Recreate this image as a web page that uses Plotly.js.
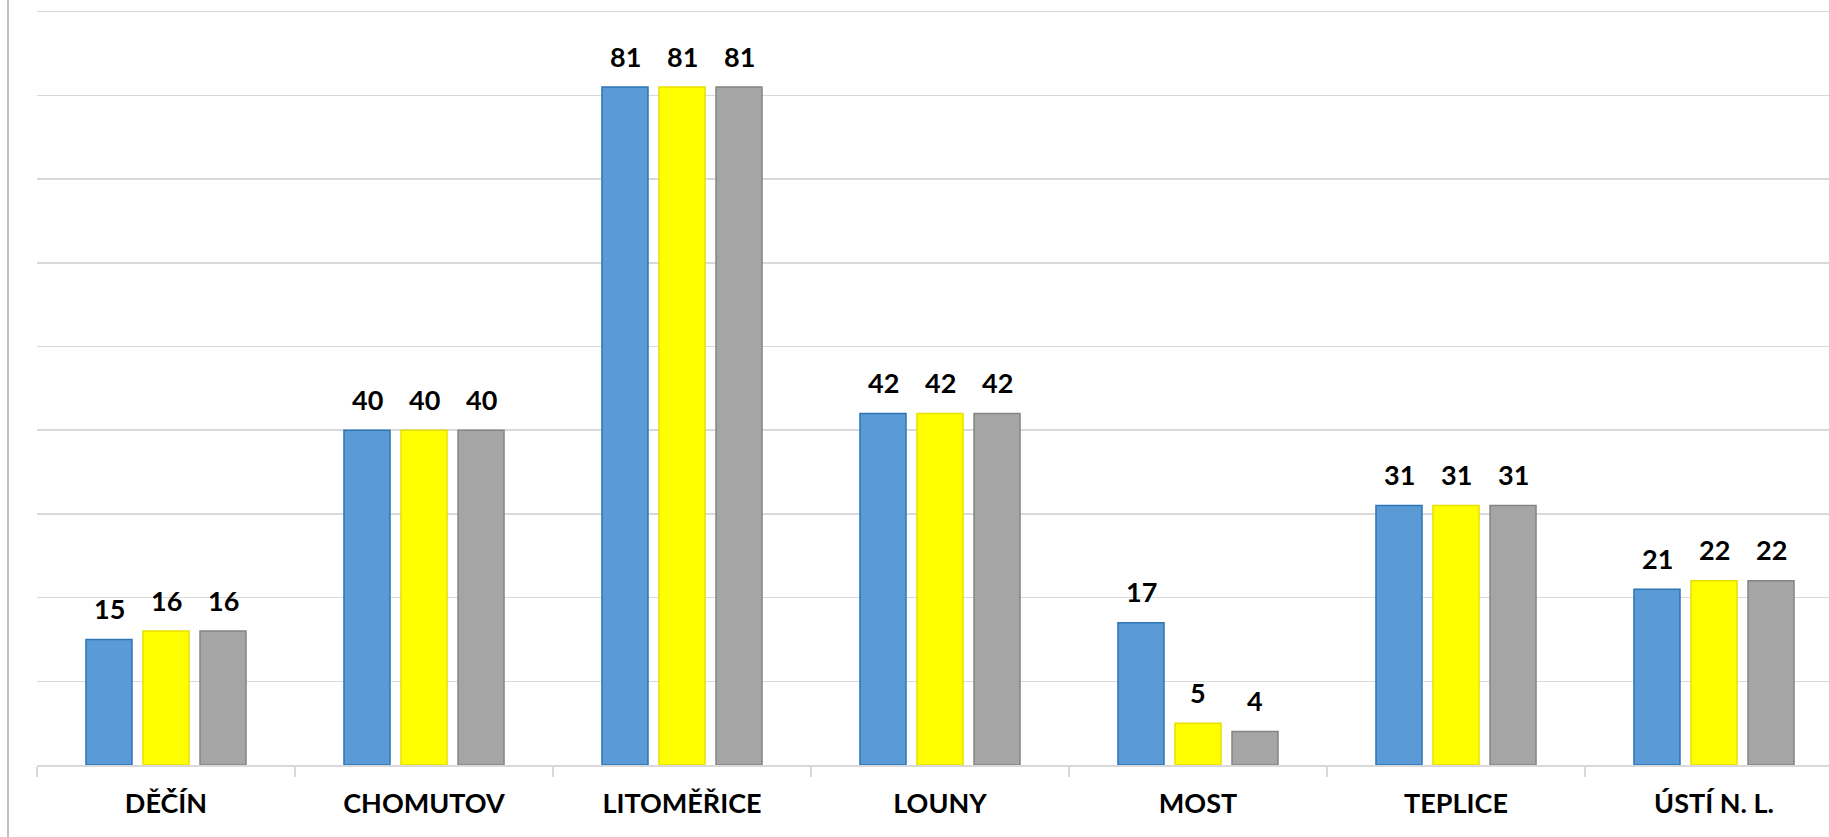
<!DOCTYPE html>
<html>
<head>
<meta charset="utf-8">
<script src="https://cdn.plot.ly/plotly-3.0.1.min.js"></script>
<style>
  html, body { margin: 0; padding: 0; background: #ffffff; overflow: hidden; }
  #chart { width: 1829px; height: 837px; }
</style>
</head>
<body>
<div id="chart"></div>
<script>
// Data
const categories = ["DĚČÍN", "CHOMUTOV", "LITOMĚŘICE", "LOUNY", "MOST", "TEPLICE", "ÚSTÍ N. L."];
const series1 = [15, 40, 81, 42, 17, 31, 21];
const series2 = [16, 40, 81, 42, 5, 31, 22];
const series3 = [16, 40, 81, 42, 4, 31, 22];
const seriesNames = ["Řada 1", "Řada 2", "Řada 3"];

const allSeries = [series1, series2, series3];
const fills = ["#5B9BD5", "#FFFF00", "#A5A5A5"];
const borders = ["#2E75B6", "#E8E000", "#858585"];

const W = 1829, H = 837;
const ml = 37, mt = 10, mb = 72;
const plotW = W - ml;
const plotH = H - mt - mb;
const catW = 258;

const traces = allSeries.map((vals, i) => ({
  type: "bar",
  name: seriesNames[i],
  x: categories,
  y: vals,
  marker: { color: fills[i], line: { color: borders[i], width: 1.5 } },
  hoverinfo: "x+y",
  showlegend: false
}));

const annotations = [];
allSeries.forEach((vals, i) => {
  vals.forEach((v, j) => {
    annotations.push({
      x: categories[j], y: v, xref: "x", yref: "y",
      xshift: (i - 1) * 57, yshift: 31,
      text: String(v), showarrow: false,
      xanchor: "center", yanchor: "middle",
      font: { family: "Lato, 'Open Sans', sans-serif", size: 27, color: "#000000", weight: 700 }
    });
  });
});

const layout = {
  width: W, height: H,
  margin: { l: ml, r: 0, t: mt, b: mb, pad: 0 },
  paper_bgcolor: "#ffffff",
  plot_bgcolor: "#ffffff",
  barmode: "group",
  bargap: 0.337,
  bargroupgap: 0.193,
  xaxis: {
    type: "category",
    range: [-0.5, -0.5 + plotW / catW],
    showline: true, linecolor: "#D9D9D9", linewidth: 1.5,
    ticks: "outside", tickson: "boundaries", ticklen: 10, tickwidth: 1.5, tickcolor: "#D9D9D9",
    ticklabelstandoff: 14,
    tickfont: { family: "Lato, 'Open Sans', sans-serif", size: 27, color: "#000000", weight: 700 },
    showgrid: false, zeroline: false, fixedrange: true
  },
  yaxis: {
    range: [0, 90.2], dtick: 10, tick0: 0,
    showticklabels: false, ticks: "",
    showgrid: true, gridcolor: "#D9D9D9", gridwidth: 1.5,
    zeroline: false, showline: false, fixedrange: true
  },
  annotations: annotations,
  shapes: [{
    type: "line", xref: "paper", yref: "paper",
    x0: (8 - ml) / plotW, x1: (8 - ml) / plotW,
    y0: -mb / plotH, y1: 1 + mt / plotH,
    line: { color: "#BFBFBF", width: 2 }
  }]
};

Plotly.newPlot("chart", traces, layout, { displayModeBar: false, staticPlot: true });
</script>
</body>
</html>
